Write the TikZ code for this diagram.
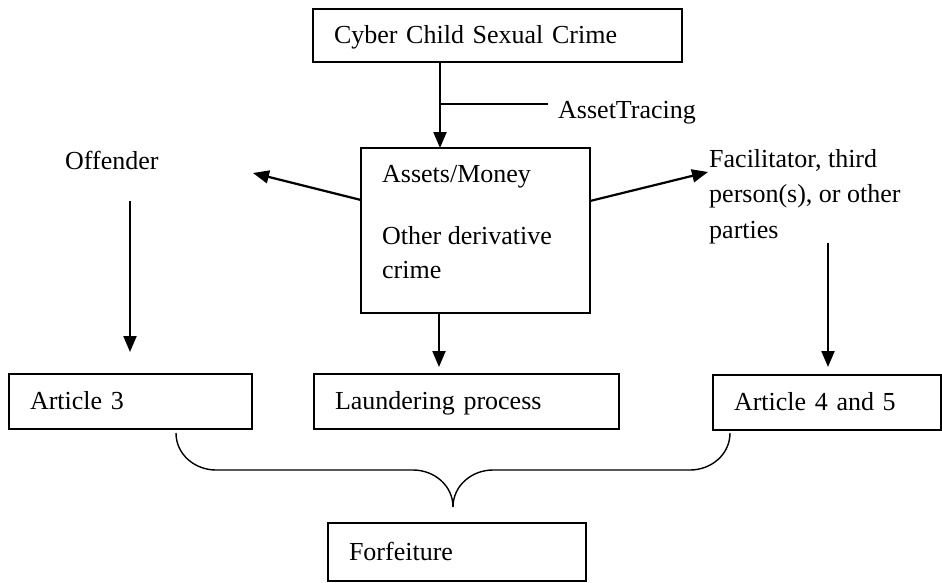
\documentclass[tikz,border=0pt]{standalone}
\usepackage{fontspec}
\setmainfont{Liberation Serif}
\usetikzlibrary{arrows.meta}
\begin{document}
\begin{tikzpicture}[x=1pt,y=-1pt,
  every node/.style={font=\fontsize{26}{35}\selectfont},
  box/.style={draw, line width=1.8pt, outer sep=0pt, inner xsep=21pt, inner ysep=0pt, align=left, text height=20pt, text depth=4pt},
  plain/.style={inner sep=0pt},
  arr/.style={line width=2.2pt, -{Triangle[length=16pt,width=13pt]}},
  brace/.style={line width=1.4pt}]
\useasboundingbox (0,0) rectangle (942,582);
% boxes
\node[box, minimum width=369pt, minimum height=53pt, text width=327pt] (top) at (497.5,35.5) {Cyber Child Sexual Crime};
\node[draw, line width=1.8pt, outer sep=0pt, minimum width=229pt, minimum height=165pt, inner sep=0pt] (mid) at (475.5,230.5) {};
\node[plain, anchor=north west, align=left, font=\fontsize{26}{34}\selectfont] (midtext) at (382,165) {Assets/Money\\[28pt]Other derivative\\crime};
\node[box, minimum width=243pt, minimum height=55pt, text width=201pt] (art3) at (130.5,401.5) {Article 3};
\node[box, minimum width=305pt, minimum height=55pt, text width=263pt] (laund) at (466.5,401.5) {Laundering process};
\node[box, minimum width=228pt, minimum height=55pt, text width=186pt] (art45) at (827,402.5) {Article 4 and 5};
\node[box, minimum width=258pt, minimum height=58pt, text width=216pt] (forf) at (457,552) {Forfeiture};
% free texts
\node[plain, anchor=base west] (asset) at (558,118) {AssetTracing};
\node[plain, anchor=base west] (off) at (65,169) {Offender};
\node[plain, anchor=north west, align=left, font=\fontsize{26}{35.5}\selectfont] (fac) at (709,149) {Facilitator, third\\person(s), or other\\parties};
% coordinates
\coordinate (br) at (440,104);
\coordinate (brend) at (548,104);
\coordinate (offtip) at (253,173);
\coordinate (factip) at (708,172);
\coordinate (l1) at (130,201);
\coordinate (l2) at (130,352);
\coordinate (r1) at (828,243);
\coordinate (r2) at (828,367);
\coordinate (m2) at (439,367);
\coordinate (btip) at (453,507);
% connectors
\draw[arr] ([xshift=127pt]top.south west) -- ([xshift=79pt]mid.north west);
\draw[line width=1.4pt] (br) -- (brend);
\draw[arr] ([yshift=30.5pt]mid.west) -- (offtip);
\draw[arr] ([yshift=29.5pt]mid.east) -- (factip);
\draw[arr] (l1) -- (l2);
\draw[arr] (r1) -- (r2);
\draw[arr] ([xshift=78pt]mid.south west) -- (m2);
% brace
\draw[brace] ([xshift=167pt,yshift=-4pt]art3.south west) to[out=-90,in=180] (216,470) -- (413,470) to[out=0,in=90] (btip);
\draw[brace] (btip) to[out=90,in=180] (493,470) -- (690,470) to[out=0,in=-90] ([xshift=17pt,yshift=-3pt]art45.south west);
\end{tikzpicture}
\end{document}
